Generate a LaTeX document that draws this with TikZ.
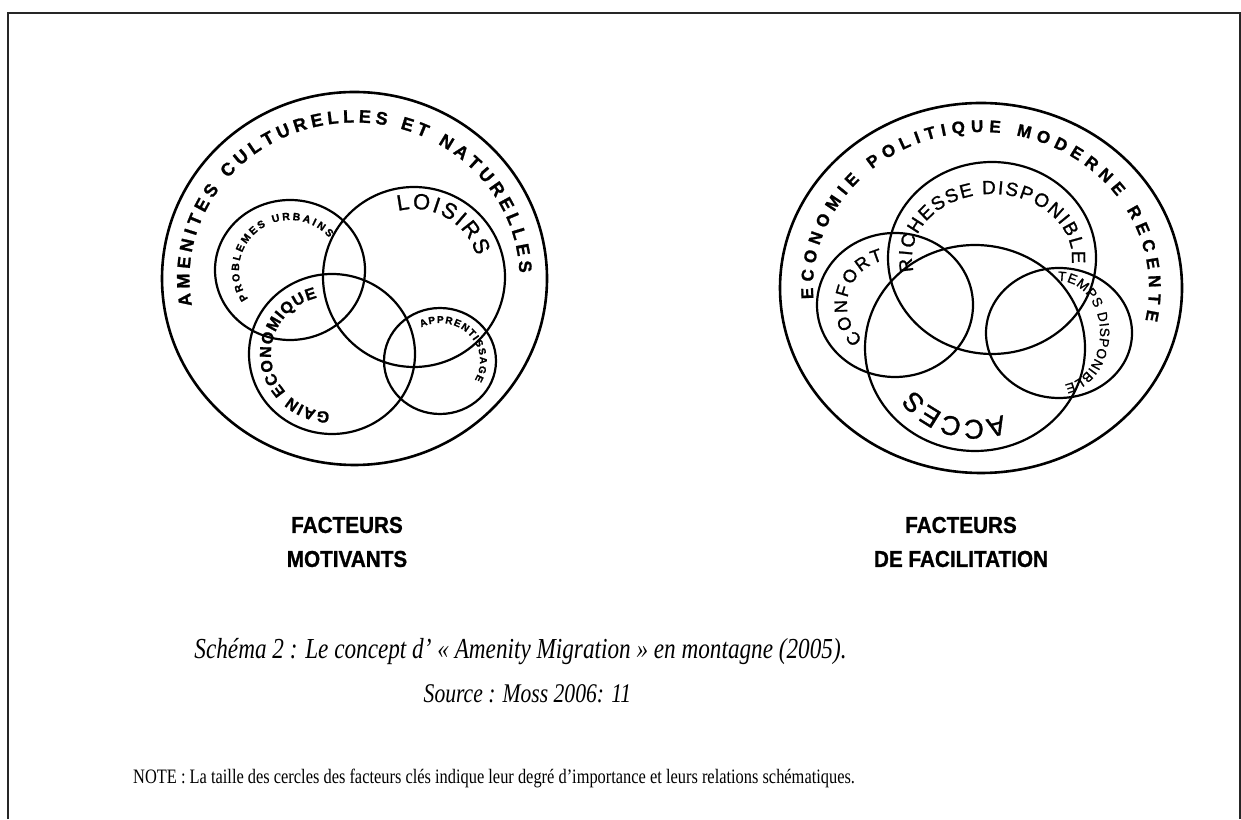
\documentclass[tikz,border=0pt]{standalone}
\usepackage{fontspec}
\setmainfont{Liberation Serif}
\setsansfont{Liberation Sans}
\newfontfamily\ringfont{Liberation Sans}[FakeBold=1.2]
\newfontfamily\labelfont{Liberation Sans}[FakeStretch=0.9,FakeBold=1]
\newfontfamily\capfont{Liberation Serif}[FakeStretch=0.8]
\usetikzlibrary{decorations.text}
\newcommand\heavy[1]{\ringfont\bfseries\fontsize{#1}{#1}\selectfont}
\newcommand\plain[1]{\ringfont\fontsize{#1}{#1}\selectfont}

\begin{document}
\begin{tikzpicture}[x=1pt,y=1pt,
  ring/.style={line width=2.6pt},
  bubble/.style={line width=2.2pt},
  along/.style={decorate,decoration={text along path,text align=fit to path,text={#1}}},
  factor/.style={align=center,font=\labelfont\bfseries\fontsize{23}{34}\selectfont}]
\useasboundingbox (0,0) rectangle (1241,819);
\draw[line width=1.6pt,black!85] (8,0)--(8,806)--(1240,806)--(1240,0);
\coordinate (amen) at (354.5,540.5);
\coordinate (prob) at (290,549);
\coordinate (lois) at (414,542);
\coordinate (gain) at (332,465);
\coordinate (appr) at (440,458);
\coordinate (eco) at (981,531);
\coordinate (conf) at (895,514);
\coordinate (rich) at (992,561);
\coordinate (acc) at (975,471);
\coordinate (temps) at (1059,486);
\draw[ring] (amen) ellipse[x radius=192.5,y radius=186.5];
\draw[bubble] (prob) ellipse[x radius=75,y radius=70];
\draw[bubble] (lois) ellipse[x radius=91,y radius=90];
\draw[bubble] (gain) ellipse[x radius=83,y radius=80];
\draw[bubble] (appr) ellipse[x radius=56,y radius=53];
\draw[ring] (eco) ellipse[x radius=201,y radius=185];
\draw[bubble] (conf) ellipse[x radius=78,y radius=72];
\draw[bubble] (rich) ellipse[x radius=104,y radius=96];
\draw[bubble] (acc) ellipse[x radius=110,y radius=103];
\draw[bubble] (temps) ellipse[x radius=73,y radius=65];
\path[along={|\heavy{18}|AMENITES CULTURELLES ET NATURELLES}] (amen) ++(190:165 and 156) arc[start angle=190,end angle=2,x radius=165,y radius=156];
\path[along={|\heavy{10.5}|PROBLEMES URBAINS}] (prob) ++(215:51 and 50) arc[start angle=215,end angle=40,x radius=51,y radius=50];
\path[along={|\plain{22}|LOISIRS}] (lois) ++(104:66 and 68) arc[start angle=104,end angle=18,x radius=66,y radius=68];
\path[along={|\heavy{16}|GAIN ECONOMIQUE}] (gain) ++(-92:61 and 58) arc[start angle=-92,end angle=-256,x radius=61,y radius=58];
\path[along={|\heavy{10}|APPRENTISSAGE}] (appr) ++(118:40 and 38) arc[start angle=118,end angle=-30,x radius=40,y radius=38];
\path[along={|\heavy{17}|ECONOMIE POLITIQUE MODERNE RECENTE}] (eco) ++(184:168 and 156) arc[start angle=184,end angle=-12,x radius=168,y radius=156];
\path[along={|\plain{18}|CONFORT}] (conf) ++(228:48 and 46) arc[start angle=228,end angle=104,x radius=48,y radius=46];
\path[along={|\plain{19}|RICHESSE DISPONIBLE}] (rich) ++(192:80 and 64) arc[start angle=192,end angle=-5,x radius=80,y radius=64];
\path[along={|\plain{13.5}|TEMPS DISPONIBLE}] (temps) ++(92:41 and 52) arc[start angle=92,end angle=-82,x radius=41,y radius=52];
\path[along={|\plain{27}|ACCES}] (acc) ++(-68:74 and 72) arc[start angle=-68,end angle=-145,x radius=74,y radius=72];
\node[factor] (motiv) at (347,277) {FACTEURS\\MOTIVANTS};
\node[factor] (facil) at (961,277) {FACTEURS\\DE FACILITATION};
\node[anchor=base,font=\capfont\itshape\fontsize{29}{29}\selectfont] (caption) at (520.5,160) {Schéma 2 : Le concept d’ « Amenity Migration » en montagne (2005).};
\node[anchor=base,font=\capfont\itshape\fontsize{27}{27}\selectfont] (source) at (527.5,117) {Source : Moss 2006: 11};
\node[anchor=base west,inner sep=0pt,font=\capfont\fontsize{20.5}{20.5}\selectfont] (note) at (133,36) {NOTE : La taille des cercles des facteurs clés indique leur degré d’importance et leurs relations schématiques.};
\end{tikzpicture}
\end{document}
